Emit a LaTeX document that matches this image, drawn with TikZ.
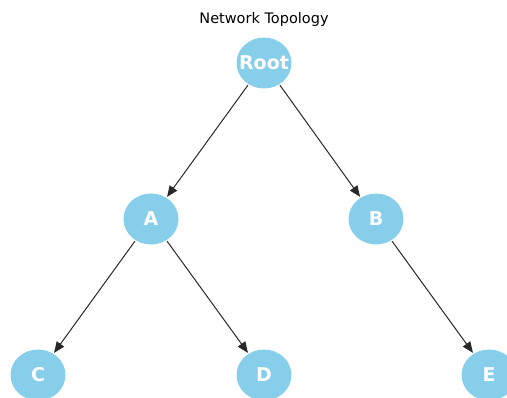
\documentclass[tikz,border=0pt]{standalone}
\usepackage{fontspec}
\setmainfont{DejaVu Sans}
\usetikzlibrary{arrows.meta,shapes.geometric}
\definecolor{skyblue}{RGB}{135,206,235}
\definecolor{edgegray}{RGB}{40,40,40}

\begin{document}
\begin{tikzpicture}
      [x=1pt, y=-1pt,
       host/.style={ellipse, fill=skyblue, minimum width=55pt, minimum height=51pt,
         inner sep=-12pt, text=white, font=\fontsize{19}{21}\selectfont\bfseries},
       link/.style={draw=edgegray, line width=1pt, -{Triangle[length=11pt,width=9pt]},
         shorten <=1pt, shorten >=1pt}]
      \useasboundingbox (0,0) rectangle (507,398);
      \node[font=\fontsize{14.5}{17}\selectfont] (title) at (264,20) {Network Topology};
      \foreach \name/\x/\y/\lbl in {root/264/63/Root, a/151/219/A, b/376/219/B,
          c/38/375/C, d/264/375/D, e/489/375/E}
        \node[host] (\name) at (\x,\y) {\lbl};
      \foreach \u/\v in {root/a, root/b, a/c, a/d, b/e}
        \draw[link] (\u) -- (\v);
      \end{tikzpicture}
\end{document}
